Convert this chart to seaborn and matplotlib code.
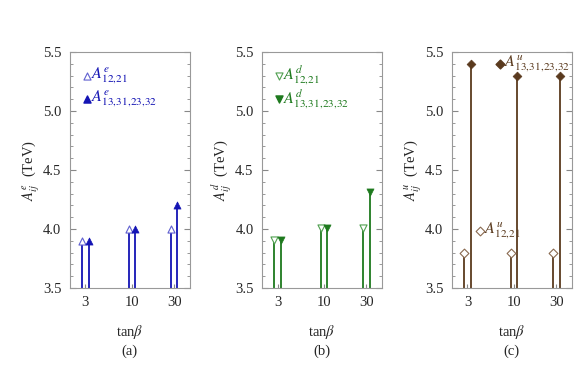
import numpy as np
import pandas as pd
import matplotlib
matplotlib.use("Agg")
import matplotlib.pyplot as plt
import seaborn as sns
from matplotlib.ticker import MultipleLocator, NullLocator

tan_beta = [3, 10, 30]

# A^e values (TeV)
e_12 = [3.9, 4.0, 4.0]
e_13 = [3.9, 4.0, 4.2]
# A^d values (TeV)
d_12 = [3.91, 4.01, 4.01]
d_13 = [3.91, 4.01, 4.31]
# A^u values (TeV)
u_12 = [3.8, 3.8, 3.8]
u_13 = [5.4, 5.3, 5.3]

sns.set_style("ticks")
plt.rcParams['font.family'] = ['Liberation Serif', 'DejaVu Serif']
plt.rcParams['mathtext.fontset'] = 'stix'

fig = plt.figure(figsize=(5.86, 3.71), dpi=100)
lefts = [0.119, 0.447, 0.771]
axes = [fig.add_axes([l, 0.224, 0.205, 0.636]) for l in lefts]

panels = [
    dict(sup='e', a=e_12, b=e_13, col='#1414b4', light='#6060d0', m='^', tag='(a)'),
    dict(sup='d', a=d_12, b=d_13, col='#1e7a1e', light='#50a050', m='v', tag='(b)'),
    dict(sup='u', a=u_12, b=u_13, col='#5a3a1e', light='#8a6a50', m='D', tag='(c)'),
]

sub12 = r'12,\!21'
sub13 = r'13,\!31,\!23,\!32'

for ax, p in zip(axes, panels):
    x_lo = np.array(tan_beta) * 0.92
    x_hi = np.array(tan_beta) * 1.088
    df = pd.DataFrame({'x': np.concatenate([x_lo, x_hi]),
                       'y': p['a'] + p['b'],
                       'grp': ['12'] * 3 + ['13'] * 3})
    ax.set_xscale('log')
    ax.vlines(x_lo, 3.5, p['a'], color=p['col'], lw=1.3)
    ax.vlines(x_hi, 3.5, p['b'], color=p['col'], lw=1.3)
    ms = 20 if p['m'] == 'D' else 26
    sns.scatterplot(data=df[df.grp == '12'], x='x', y='y', marker=p['m'], s=ms,
                    facecolor='white', edgecolor=p['light'], linewidth=0.8, ax=ax, zorder=3)
    sns.scatterplot(data=df[df.grp == '13'], x='x', y='y', marker=p['m'], s=ms,
                    color=p['col'], edgecolor=p['col'], linewidth=0.5, ax=ax, zorder=3)

    ax.set_xlim(2, 45)
    ax.set_ylim(3.5, 5.5)
    ax.set_xticks(tan_beta)
    ax.set_xticklabels([str(t) for t in tan_beta])
    ax.xaxis.set_minor_locator(NullLocator())
    ax.yaxis.set_major_locator(MultipleLocator(0.5))
    ax.yaxis.set_minor_locator(MultipleLocator(0.1))
    ax.yaxis.set_major_formatter(matplotlib.ticker.FormatStrFormatter('%.1f'))
    ax.tick_params(axis='both', direction='in', labelsize=10.5, color='#888888', pad=6)
    ax.tick_params(axis='y', which='both', right=True)
    ax.tick_params(axis='y', which='major', length=4)
    ax.tick_params(axis='y', which='minor', length=2, direction='in', color='#888888')
    ax.tick_params(axis='x', which='major', length=3, top=False)
    for sp in ax.spines.values():
        sp.set_color('#999999')
        sp.set_linewidth(0.8)
    ax.set_xlabel(r'tan$\beta$', fontsize=10.5, labelpad=10)
    ax.set_ylabel(r'$A^{%s}_{ij}$  (TeV)' % p['sup'], fontsize=10.5, labelpad=1)
    ax.text(0.5, -0.27, p['tag'], transform=ax.transAxes, ha='center', va='center', fontsize=10.5)

    s = p['sup']
    if s in ('e', 'd'):
        ax.scatter([3.1], [5.3], marker=p['m'], s=ms, facecolor='white',
                   edgecolor=p['light'], linewidth=0.8, zorder=3)
        ax.scatter([3.1], [5.1], marker=p['m'], s=ms, color=p['col'], zorder=3)
        ax.text(3.45, 5.3, r'$A^{%s}_{%s}$' % (s, sub12), color=p['col'], fontsize=11.5, va='center')
        ax.text(3.45, 5.1, r'$A^{%s}_{%s}$' % (s, sub13), color=p['col'], fontsize=11.5, va='center')
    else:
        ax.scatter([7.0], [5.4], marker='D', s=ms, color=p['col'], zorder=3)
        ax.text(7.7, 5.4, r'$A^{u}_{%s}$' % sub13, color=p['col'], fontsize=11.5, va='center')
        ax.scatter([4.2], [3.98], marker='D', s=ms, facecolor='white',
                   edgecolor=p['light'], linewidth=0.8, zorder=3)
        ax.text(4.6, 3.98, r'$A^{u}_{%s}$' % sub12, color=p['col'], fontsize=11.5, va='center')

fig.savefig('out.png', dpi=100)
